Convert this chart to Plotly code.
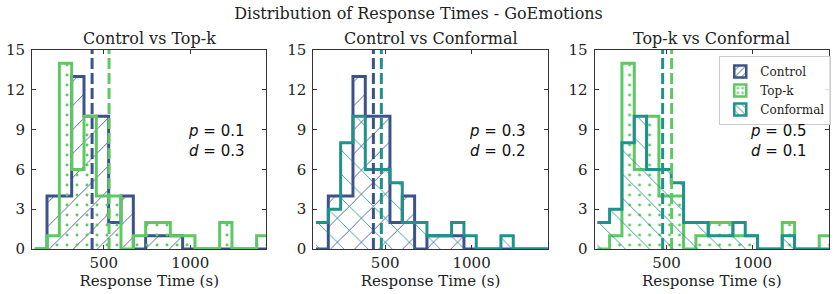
import plotly.graph_objects as go

# ---- data ----
bin_start = 100.0
bin_width = 71.3
control_counts = [0, 4, 4, 13, 10, 10, 2, 4, 0, 1, 1, 1, 0, 0, 0, 0, 0, 0, 0]
topk_counts = [0, 1, 14, 6, 10, 4, 4, 0, 1, 2, 2, 1, 1, 0, 0, 2, 0, 0, 1]
conformal_counts = [2, 3, 8, 10, 6, 6, 5, 2, 2, 1, 1, 2, 1, 0, 0, 1, 0, 0, 0]
means = {"Control": 432, "Top-k": 530, "Conformal": 478}
pairs = [("Control", "Top-k"), ("Control", "Conformal"), ("Top-k", "Conformal")]
stats_p = [0.1, 0.3, 0.5]
stats_d = [0.3, 0.2, 0.1]
titles = ["Control vs Top-k", "Control vs Conformal", "Top-k vs Conformal"]
y_ticks = [0, 3, 6, 9, 12, 15]
x_ticks = [500, 1000]
legend_names = ["Control", "Top-k", "Conformal"]

counts = {"Control": control_counts, "Top-k": topk_counts, "Conformal": conformal_counts}
colors = {"Control": "#3b528b", "Top-k": "#5ec962", "Conformal": "#21918c"}
patterns = {"Control": "/", "Top-k": ".", "Conformal": "\\"}
sizes = {"Control": 17, "Top-k": 10, "Conformal": 17}
solid = {"Control": 0.05, "Top-k": 0.07, "Conformal": 0.05}

W, H = 837, 294
ml, mr, mt, mb = 32, 6, 50, 45
pw = W - ml - mr
panel_w = 235 / pw
gap = (1 - 3 * panel_w) / 2

fig = go.Figure()
SERIF = "DejaVu Serif"

for i, (a, b) in enumerate(pairs):
    ax = "" if i == 0 else str(i + 1)
    xref, yref = "x" + ax, "y" + ax
    for name in (a, b):
        c = counts[name]
        edges = [bin_start + bin_width * k for k in range(len(c) + 1)]
        ys = list(c) + [c[-1]]
        fig.add_trace(go.Scatter(
            x=edges, y=ys, mode="lines", line=dict(color=colors[name], width=3, shape="hv"),
            fill="tozeroy", fillcolor="rgba(0,0,0,0)",
            fillpattern=dict(shape=patterns[name], fgcolor=colors[name], bgcolor="rgba(0,0,0,0)",
                             fgopacity=1, size=sizes[name], solidity=solid[name],
                             fillmode="overlay"),
            name=name, showlegend=False, xaxis=xref, yaxis=yref, hoverinfo="skip",
        ))
    for name in (a, b):
        fig.add_trace(go.Scatter(
            x=[means[name], means[name]], y=[0, 15], mode="lines",
            line=dict(color=colors[name], width=3, dash="11px,4px"),
            showlegend=False, hoverinfo="skip", xaxis=xref, yaxis=yref,
        ))
    x0 = i * (panel_w + gap)
    dom = [x0, x0 + panel_w]
    axis_common = dict(showline=True, linecolor="#333", linewidth=1, mirror="allticks",
                       ticks="inside", ticklen=4, tickcolor="#333", showgrid=False, zeroline=False,
                       tickfont=dict(family=SERIF, size=15, color="#222"))
    fig.layout["xaxis" + ax] = dict(domain=dom, range=[84.5, 1440], tickvals=x_ticks,
                                    anchor=yref, ticklabelstandoff=0,
                                    title=dict(text="Response Time (s)",
                                               font=dict(family=SERIF, size=15, color="#222"),
                                               standoff=0),
                                    **axis_common)
    fig.layout["yaxis" + ax] = dict(domain=[0, 1], range=[0, 15], tickvals=y_ticks, anchor=xref,
                                    ticklabelstandoff=3, **axis_common)
    fig.add_annotation(x=(dom[0] + dom[1]) / 2, y=1.0, xref="paper", yref="paper",
                       text=titles[i], showarrow=False, xanchor="center", yanchor="bottom",
                       yshift=0, font=dict(family=SERIF, size=16, color="#222"))
    fig.add_annotation(x=0.655, y=0.545, xref=xref + " domain", yref=yref + " domain",
                       text=f"<i>p</i> = {stats_p[i]}<br><i>d</i> = {stats_d[i]}",
                       showarrow=False, xanchor="left", yanchor="middle", align="left",
                       font=dict(family="DejaVu Sans", size=15, color="#111"))

# legend entries (patterned boxes like the reference legend)
for name in legend_names:
    fig.add_trace(go.Bar(
        x=[None], y=[None], name=name, xaxis="x3", yaxis="y3",
        marker=dict(color="rgba(0,0,0,0)", line=dict(color=colors[name], width=2.5),
                    pattern=dict(shape=patterns[name], fgcolor=colors[name], fgopacity=1,
                                 bgcolor="rgba(0,0,0,0)", size=6, solidity=0.2)),
        showlegend=True,
    ))

fig.update_layout(
    width=W, height=H, margin=dict(l=ml, r=mr, t=mt, b=mb),
    paper_bgcolor="white", plot_bgcolor="white",
    title=dict(text="Distribution of Response Times - GoEmotions", x=0.5, xanchor="center",
               y=1 - 13 / H, yanchor="middle", font=dict(family=SERIF, size=16, color="#222")),
    legend=dict(x=(721 - ml) / pw, y=(H - mb - 56) / (H - mt - mb), xanchor="left", yanchor="top",
                bordercolor="#cccccc", borderwidth=1, bgcolor="rgba(255,255,255,0.85)",
                font=dict(family=SERIF, size=12, color="#222"), tracegroupgap=0,
                itemwidth=30),
    showlegend=True,
)

fig.write_html("out.html", config={"displayModeBar": False},
               post_script="document.body.style.margin='0';")
